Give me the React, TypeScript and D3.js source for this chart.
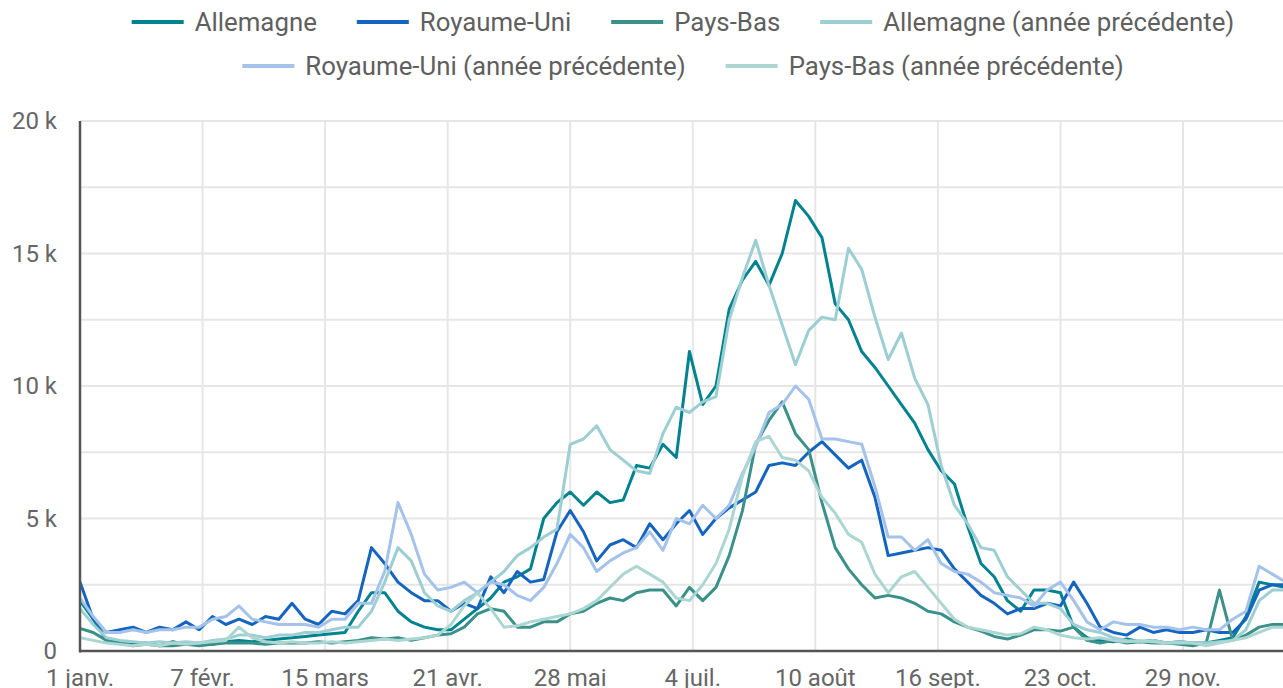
import React, { useEffect, useRef } from 'react';
import * as d3 from 'd3';

// Daily series sampled every 4 days, starting 1 Jan (values in thousands)
const START = new Date(2024, 0, 1);
const END = new Date(2024, 11, 31);
const STEP_DAYS = 4;

const allemagne = [
  1.9, 1.2, 0.4, 0.3, 0.25, 0.3, 0.2, 0.35, 0.25, 0.3,
  0.25, 0.35, 0.4, 0.35, 0.4, 0.45, 0.5, 0.55, 0.6, 0.65,
  0.7, 1.5, 2.2, 2.2, 1.5, 1.1, 0.9, 0.8, 0.8, 1.2,
  1.6, 2.0, 2.6, 2.8, 3.1, 5.0, 5.6, 6.0, 5.5, 6.0,
  5.6, 5.7, 7.0, 6.9, 7.8, 7.3, 11.3, 9.3, 10.0, 12.9,
  14.0, 14.7, 13.8, 15.0, 17.0, 16.4, 15.6, 13.1, 12.5, 11.3,
  10.7, 10.0, 9.3, 8.6, 7.6, 6.8, 6.3, 4.7, 3.3, 2.8,
  1.9, 1.5, 2.3, 2.3, 2.2, 0.9, 0.5, 0.4, 0.35, 0.45,
  0.35, 0.4, 0.3, 0.35, 0.3, 0.3, 0.4, 0.5, 1.3, 2.6,
  2.5, 2.4,
];

const royaumeUni = [
  2.6, 1.2, 0.7, 0.8, 0.9, 0.7, 0.9, 0.8, 1.1, 0.8,
  1.3, 1.0, 1.2, 1.0, 1.3, 1.2, 1.8, 1.2, 1.0, 1.5,
  1.4, 1.9, 3.9, 3.3, 2.6, 2.2, 1.9, 1.9, 1.5, 1.8,
  1.6, 2.8, 2.2, 3.0, 2.6, 2.7, 4.5, 5.3, 4.5, 3.4,
  4.0, 4.2, 3.9, 4.8, 4.2, 4.8, 5.3, 4.4, 5.0, 5.4,
  5.7, 6.0, 7.0, 7.1, 7.0, 7.5, 7.9, 7.4, 6.9, 7.2,
  5.8, 3.6, 3.7, 3.8, 3.9, 3.8, 3.1, 2.6, 2.1, 1.8,
  1.4, 1.6, 1.6, 1.8, 1.7, 2.6, 1.8, 0.9, 0.7, 0.6,
  0.9, 0.7, 0.8, 0.7, 0.7, 0.8, 0.7, 0.7, 1.2, 2.3,
  2.5, 2.5,
];

const paysBas = [
  0.85, 0.7, 0.4, 0.3, 0.2, 0.25, 0.2, 0.2, 0.25, 0.2,
  0.25, 0.3, 0.3, 0.3, 0.25, 0.3, 0.3, 0.3, 0.35, 0.3,
  0.35, 0.4, 0.5, 0.45, 0.5, 0.4, 0.5, 0.6, 0.65, 0.9,
  1.4, 1.6, 1.5, 0.9, 0.9, 1.1, 1.1, 1.4, 1.5, 1.8,
  2.0, 1.9, 2.2, 2.3, 2.3, 1.7, 2.4, 1.9, 2.4, 3.6,
  5.3, 7.8, 8.7, 9.4, 8.2, 7.6, 5.6, 3.9, 3.1, 2.5,
  2.0, 2.1, 2.0, 1.8, 1.5, 1.4, 1.1, 0.9, 0.75, 0.55,
  0.45, 0.6, 0.8, 0.8, 0.75, 0.9, 0.4, 0.3, 0.4, 0.3,
  0.35, 0.3, 0.3, 0.25, 0.2, 0.3, 2.3, 0.4, 0.6, 0.9,
  1.0, 1.0,
];

const allemagnePrev = [
  1.6, 1.0, 0.5, 0.4, 0.35, 0.3, 0.35, 0.3, 0.35, 0.3,
  0.4, 0.45, 0.6, 0.6, 0.5, 0.6, 0.6, 0.7, 0.7, 0.8,
  0.9, 0.9, 1.5, 2.6, 3.9, 3.4, 2.2, 1.7, 1.5, 1.9,
  2.2, 2.6, 3.0, 3.6, 3.9, 4.3, 4.6, 7.8, 8.0, 8.5,
  7.6, 7.2, 6.8, 6.7, 8.2, 9.2, 9.0, 9.4, 9.6, 12.5,
  14.1, 15.5, 13.8, 12.3, 10.8, 12.1, 12.6, 12.5, 15.2, 14.4,
  12.6, 11.0, 12.0, 10.3, 9.3, 7.0, 5.5, 4.8, 3.9, 3.8,
  2.8, 2.3, 1.8, 1.8, 1.6, 1.0, 0.8, 0.7, 0.5, 0.4,
  0.35, 0.4, 0.3, 0.35, 0.3, 0.3, 0.35, 0.4, 0.8, 1.9,
  2.3, 2.3,
];

const royaumeUniPrev = [
  2.0, 1.3, 0.7, 0.7, 0.8, 0.7, 0.8, 0.8, 0.9, 0.9,
  1.2, 1.3, 1.7, 1.2, 1.1, 1.0, 1.0, 1.0, 0.9, 1.2,
  1.2, 1.8, 1.8, 3.0, 5.6, 4.4, 2.9, 2.3, 2.4, 2.6,
  2.2, 2.6, 2.5, 2.1, 1.9, 2.4, 3.3, 4.4, 3.9, 3.0,
  3.4, 3.7, 3.9, 4.5, 3.8, 5.0, 4.8, 5.5, 5.0, 5.5,
  6.7, 7.7, 9.0, 9.3, 10.0, 9.5, 8.0, 8.0, 7.9, 7.8,
  6.2, 4.3, 4.3, 3.8, 4.2, 3.3, 3.0, 2.9, 2.6, 2.2,
  2.1, 2.0, 1.7, 2.3, 2.6, 1.9, 1.1, 0.8, 1.1, 1.0,
  1.0, 0.9, 0.9, 0.8, 0.9, 0.8, 0.8, 1.2, 1.5, 3.2,
  2.9, 2.6,
];

const paysBasPrev = [
  0.5, 0.4, 0.3, 0.25, 0.2, 0.25, 0.2, 0.3, 0.25, 0.3,
  0.35, 0.4, 0.9, 0.5, 0.35, 0.3, 0.35, 0.3, 0.3, 0.35,
  0.3, 0.35, 0.4, 0.45, 0.4, 0.45, 0.5, 0.6, 1.0, 1.7,
  2.2, 1.6, 0.9, 0.95, 1.1, 1.2, 1.3, 1.4, 1.6, 1.9,
  2.4, 2.9, 3.2, 2.9, 2.6, 2.0, 1.9, 2.5, 3.3, 4.6,
  6.6, 7.9, 8.1, 7.3, 7.2, 6.8, 5.8, 5.2, 4.4, 4.1,
  2.9, 2.2, 2.8, 3.0, 2.4, 1.8, 1.2, 0.9, 0.8, 0.7,
  0.6, 0.65, 0.9, 0.8, 0.6, 0.5, 0.45, 0.5, 0.4, 0.35,
  0.4, 0.35, 0.3, 0.3, 0.3, 0.2, 0.3, 0.4, 0.5, 0.7,
  0.9, 0.9,
];

const seriesNames = [
  'Allemagne',
  'Royaume-Uni',
  'Pays-Bas',
  'Allemagne (année précédente)',
  'Royaume-Uni (année précédente)',
  'Pays-Bas (année précédente)',
];
const seriesValues = [allemagne, royaumeUni, paysBas, allemagnePrev, royaumeUniPrev, paysBasPrev];
const seriesColors = ['#00838f', '#1565c0', '#3a9189', '#9dced3', '#a4c2ea', '#abd6d2'];
const legendRows = [[0, 1, 2, 3], [4, 5]];

const xTickDates = [
  new Date(2024, 0, 1), new Date(2024, 1, 7), new Date(2024, 2, 15), new Date(2024, 3, 21),
  new Date(2024, 4, 28), new Date(2024, 6, 4), new Date(2024, 7, 10), new Date(2024, 8, 16),
  new Date(2024, 9, 23), new Date(2024, 10, 29),
];
const xTickLabels = ['1 janv.', '7 févr.', '15 mars', '21 avr.', '28 mai', '4 juil.', '10 août', '16 sept.', '23 oct.', '29 nov.'];
const yGridValues = [0, 2.5, 5, 7.5, 10, 12.5, 15, 17.5, 20];
const yTickValues = [0, 5, 10, 15, 20];
const yTickLabels = ['0', '5 k', '10 k', '15 k', '20 k'];

export default function App() {
  const ref = useRef<SVGSVGElement>(null);

  useEffect(() => {
    document.body.style.margin = '0';
    document.body.style.overflow = 'hidden';
    const svg = d3.select(ref.current);
    svg.selectAll('*').remove();

    const W = 1283;
    const plotLeft = 80;
    const plotTop = 121;
    const plotBottom = 651;
    const pxPerDay = (1183 - 80) / 333;

    const x = d3.scaleTime().domain([START, END]).range([plotLeft, plotLeft + 365 * pxPerDay]);
    const y = d3.scaleLinear().domain([0, 20]).range([plotBottom, plotTop]);
    const font = 'Roboto, "Noto Sans", Arial, sans-serif';

    // grid
    const grid = svg.append('g');
    grid.selectAll('line.h').data(yGridValues).enter().append('line')
      .attr('x1', plotLeft).attr('x2', W)
      .attr('y1', (d) => y(d)).attr('y2', (d) => y(d))
      .attr('stroke', '#e6e6e6').attr('stroke-width', 2);
    grid.selectAll('line.v').data(xTickDates).enter().append('line')
      .attr('x1', (d) => x(d)).attr('x2', (d) => x(d))
      .attr('y1', plotTop).attr('y2', plotBottom)
      .attr('stroke', '#e6e6e6').attr('stroke-width', 2);

    // lines
    const clip = svg.append('clipPath').attr('id', 'plotclip');
    clip.append('rect').attr('x', plotLeft).attr('y', 0).attr('width', W - plotLeft).attr('height', plotBottom);
    const linesG = svg.append('g').attr('clip-path', 'url(#plotclip)');
    const line = d3.line<number>()
      .x((_, i) => x(d3.timeDay.offset(START, i * STEP_DAYS)))
      .y((d) => y(d));
    seriesValues.forEach((vals, i) => {
      linesG.append('path')
        .attr('d', line(vals) as string)
        .attr('fill', 'none')
        .attr('stroke', seriesColors[i])
        .attr('stroke-width', 3)
        .attr('stroke-linejoin', 'round');
    });

    // axes lines
    svg.append('line').attr('x1', plotLeft).attr('x2', plotLeft).attr('y1', plotTop).attr('y2', plotBottom + 1.5)
      .attr('stroke', '#555').attr('stroke-width', 2.5);
    svg.append('line').attr('x1', plotLeft).attr('x2', W).attr('y1', plotBottom).attr('y2', plotBottom)
      .attr('stroke', '#555').attr('stroke-width', 2.5);

    // y labels
    svg.append('g').selectAll('text').data(yTickValues).enter().append('text')
      .attr('x', 57).attr('y', (d) => y(d)).attr('dy', '0.35em')
      .attr('text-anchor', 'end').attr('font-family', font).attr('font-size', 24).attr('fill', '#666')
      .text((_, i) => yTickLabels[i]);

    // x labels
    svg.append('g').selectAll('text').data(xTickDates).enter().append('text')
      .attr('x', (d) => x(d)).attr('y', 686)
      .attr('text-anchor', 'middle').attr('font-family', font).attr('font-size', 24).attr('fill', '#666')
      .text((_, i) => xTickLabels[i]);

    // legend
    const swatchW = 52;
    const swatchGap = 11;
    const itemGap = 40;
    const centerX = 683;
    const rowY = [22, 66];
    legendRows.forEach((row, r) => {
      const g = svg.append('g');
      const items = row.map((si) => {
        const t = g.append('text')
          .attr('font-family', font).attr('font-size', 25.8).attr('fill', '#5f5f5f')
          .attr('dy', '0.35em').attr('y', rowY[r]).text(seriesNames[si]);
        const w = (t.node() as SVGTextElement).getComputedTextLength();
        return { si, t, w };
      });
      const total = d3.sum(items, (it) => swatchW + swatchGap + it.w) + itemGap * (items.length - 1);
      let cx = centerX - total / 2;
      items.forEach((it) => {
        g.append('line').attr('x1', cx).attr('x2', cx + swatchW)
          .attr('y1', rowY[r]).attr('y2', rowY[r])
          .attr('stroke', seriesColors[it.si]).attr('stroke-width', 4);
        it.t.attr('x', cx + swatchW + swatchGap);
        cx += swatchW + swatchGap + it.w + itemGap;
      });
    });
  }, []);

  return (
    <div style={{ width: 1283, height: 688, overflow: 'hidden' }}>
      <svg ref={ref} width={1283} height={688} style={{ display: 'block' }} />
    </div>
  );
}
